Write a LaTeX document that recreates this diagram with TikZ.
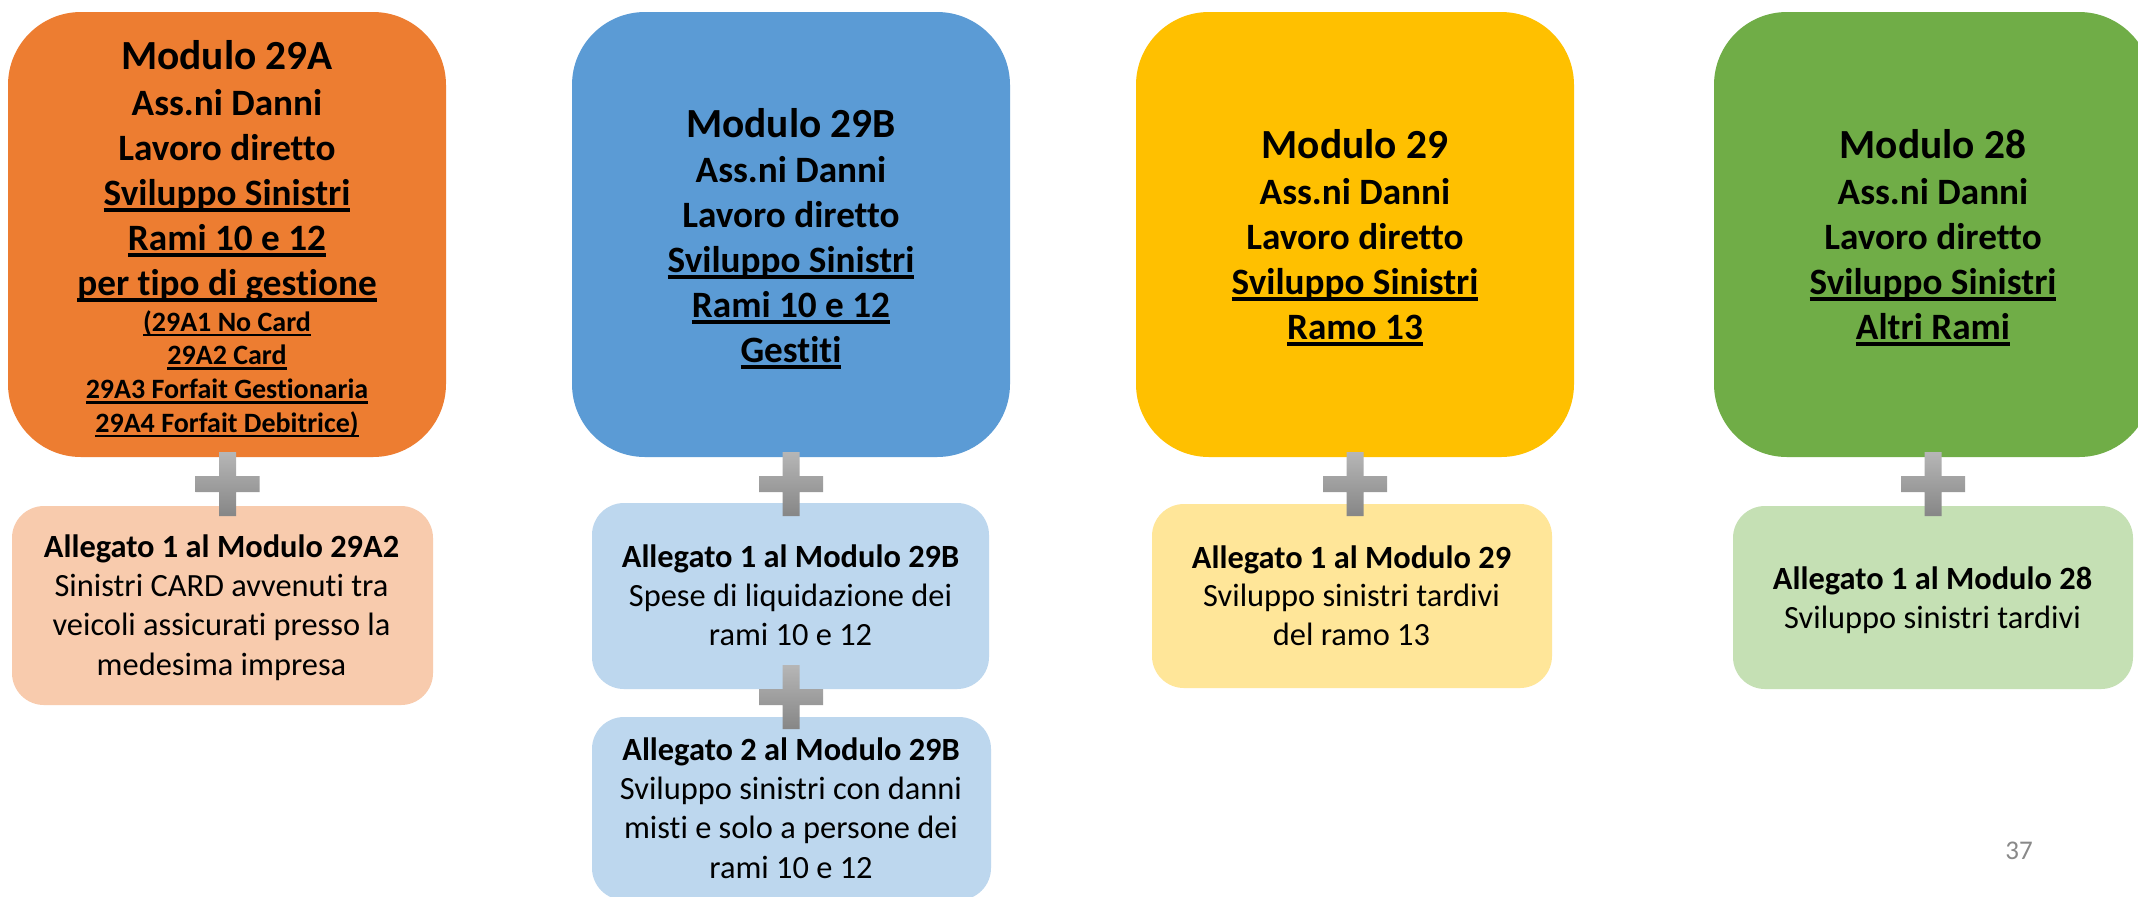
\documentclass[tikz,border=0pt]{standalone}
\usepackage{fontspec}
\setmainfont{Carlito}[Ligatures=NoCommon]
\definecolor{cOr}{HTML}{ED7D31}
\definecolor{cBl}{HTML}{5B9BD5}
\definecolor{cYe}{HTML}{FFC000}
\definecolor{cGr}{HTML}{70AD47}
\definecolor{lOr}{HTML}{F8CBAD}
\definecolor{lBl}{HTML}{BDD7EE}
\definecolor{lYe}{HTML}{FFE699}
\definecolor{lGr}{HTML}{C5E0B4}
\definecolor{plustop}{RGB}{182,182,182}
\definecolor{plusbot}{RGB}{134,134,134}
\definecolor{pgnum}{RGB}{137,137,137}
\newcommand\stk[2]{\vtop{\baselineskip=#1\relax\lineskiplimit=-\maxdimen\lineskip=0pt\halign{\hfil##\hfil\cr#2\crcr}}}
\newcommand\ulx[1]{\setbox0=\hbox{#1}\rlap{\rule[-0.19em]{\wd0}{0.1em}}\box0}
\tikzset{
  bigbox/.style={rectangle, rounded corners=36.5pt, inner sep=0pt, minimum width=219pt, minimum height=222.5pt, fill=#1},
  smallbox/.style={rectangle, rounded corners=16pt, inner sep=0pt, minimum width=200pt, minimum height=92pt, fill=#1},
  txt/.style={inner sep=0pt, anchor=base, text=black},
  titlefont/.style={font=\bfseries\fontsize{20.7}{24}\selectfont},
  bodyfont/.style={font=\bfseries\fontsize{18.6}{22}\selectfont},
  tinyfont/.style={font=\bfseries\fontsize{14}{17}\selectfont},
  allfont/.style={font=\fontsize{16.2}{19}\selectfont},
  plussign/.pic={\path[top color=plustop, bottom color=plusbot]
    (-8.5,-32) -- (8.5,-32) -- (8.5,-8) -- (32,-8) -- (32,8) -- (8.5,8) -- (8.5,32)
    -- (-8.5,32) -- (-8.5,8) -- (-32,8) -- (-32,-8) -- (-8.5,-8) -- cycle;}
}
\begin{document}
\begin{tikzpicture}[x=0.5pt,y=-0.5pt]
\path[use as bounding box, clip] (0,0) rectangle (2138,896);
\fill[white] (0,0) rectangle (2138,896);

% top boxes
\node[bigbox=cOr] (mA) at (227,234.5) {};
\node[bigbox=cBl] (mB) at (791,234.5) {};
\node[bigbox=cYe] (mC) at (1355,234.5) {};
\node[bigbox=cGr] (mD) at (1933,234.5) {};

% attachment boxes
\node[smallbox=lOr, minimum width=210.5pt, minimum height=99.5pt] (aA) at (222.5,605.5) {};
\node[smallbox=lBl, minimum width=198.5pt, minimum height=93pt] (aB1) at (790.5,596) {};
\node[smallbox=lBl, minimum width=199.5pt, minimum height=91.5pt] (aB2) at (791.5,808.5) {};
\node[smallbox=lYe] (aC) at (1352,596) {};
\node[smallbox=lGr, minimum height=91.5pt] (aD) at (1933,597.5) {};

% plus signs
\pic at (227.5,484) {plussign};
\pic at (791,484) {plussign};
\pic at (791,697) {plussign};
\pic at (1355,484) {plussign};
\pic at (1933,484) {plussign};

% Modulo 29A
\node[txt, titlefont] (tA1) at (227,69) {Modulo 29A};
\node[txt, bodyfont] (tA2) at (227,115) {\stk{22.5pt}{Ass.ni Danni\cr Lavoro diretto\cr \ulx{Sviluppo Sinistri}\cr \ulx{Rami 10 e 12}\cr \ulx{per tipo di gestione}}};
\node[txt, tinyfont] (tA3) at (227,331) {\stk{16.85pt}{\ulx{(29A1 No Card}\cr \ulx{29A2 Card}\cr \ulx{29A3 Forfait Gestionaria}\cr \ulx{29A4 Forfait Debitrice)}}};

% Modulo 29B
\node[txt, titlefont] (tB1) at (791,137) {Modulo 29B};
\node[txt, bodyfont] (tB2) at (791,182) {\stk{22.5pt}{Ass.ni Danni\cr Lavoro diretto\cr \ulx{Sviluppo Sinistri}\cr \ulx{Rami 10 e 12}\cr \ulx{Gestiti}}};

% Modulo 29
\node[txt, titlefont] (tC1) at (1355,158) {Modulo 29};
\node[txt, bodyfont] (tC2) at (1355,204) {\stk{22.5pt}{Ass.ni Danni\cr Lavoro diretto\cr \ulx{Sviluppo Sinistri}\cr \ulx{Ramo 13}}};

% Modulo 28
\node[txt, titlefont] (tD1) at (1933,158) {Modulo 28};
\node[txt, bodyfont] (tD2) at (1933,204) {\stk{22.5pt}{Ass.ni Danni\cr Lavoro diretto\cr \ulx{Sviluppo Sinistri}\cr \ulx{Altri Rami}}};

% attachments text
\node[txt, allfont] (xA) at (221.5,557) {\stk{19.7pt}{\textbf{Allegato 1 al Modulo 29A2}\cr Sinistri CARD avvenuti tra\cr veicoli assicurati presso la\cr medesima impresa}};
\node[txt, allfont] (xB1) at (790.5,567) {\stk{19.7pt}{\textbf{Allegato 1 al Modulo 29B}\cr Spese di liquidazione dei\cr rami 10 e 12}};
\node[txt, allfont] (xB2) at (791,760) {\stk{19.7pt}{\textbf{Allegato 2 al Modulo 29B}\cr Sviluppo sinistri con danni\cr misti e solo a persone dei\cr rami 10 e 12}};
\node[txt, allfont] (xC) at (1351.5,568) {\stk{19.4pt}{\textbf{Allegato 1 al Modulo 29}\cr Sviluppo sinistri tardivi\cr del ramo 13}};
\node[txt, allfont] (xD) at (1932.5,589) {\stk{19.5pt}{\textbf{Allegato 1 al Modulo 28}\cr Sviluppo sinistri tardivi}};

% page number
\node[txt, text=pgnum, font=\fontsize{13.5}{16}\selectfont] (pg) at (2019,859) {37};
\end{tikzpicture}
\end{document}
